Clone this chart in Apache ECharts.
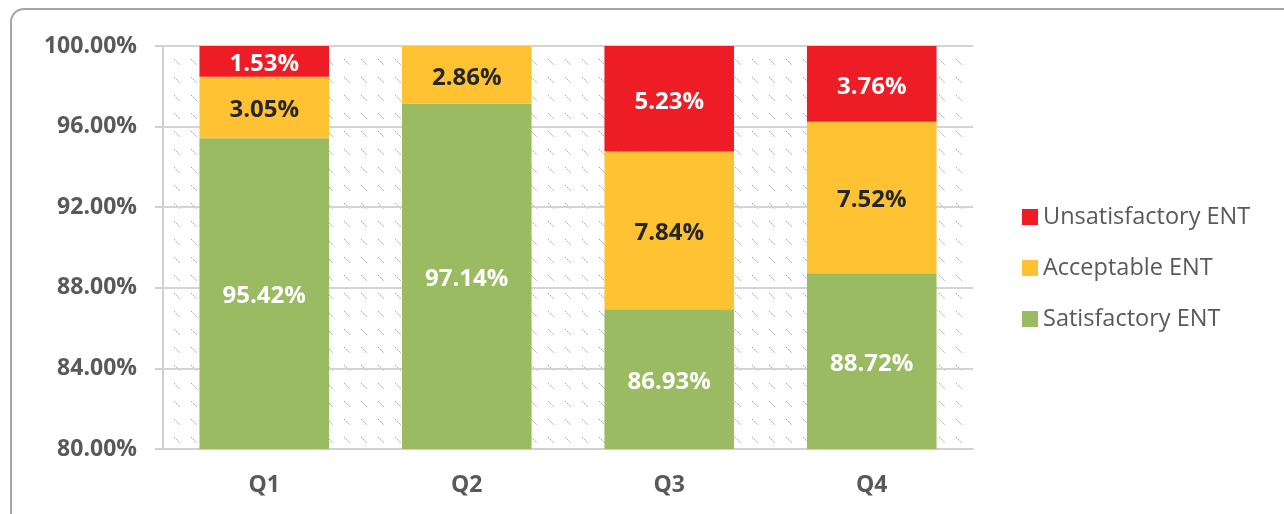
<!DOCTYPE html>
<html>
<head>
<meta charset="utf-8">
<script src="https://cdn.jsdelivr.net/npm/echarts@6/dist/echarts.min.js"></script>
<style>
  html, body { margin: 0; padding: 0; background: #fff; }
  #frame {
    position: absolute; left: 10px; top: 8px;
    width: 1320px; height: 560px;
    border: 2px solid #a6a6a6; border-radius: 14px;
  }
  #chart { position: absolute; left: 0; top: 0; width: 1284px; height: 514px; }
</style>
</head>
<body>
<div id="frame"></div>
<div id="chart"></div>
<script>
  // categories and series values (percent)
  var quarters = ['Q1', 'Q2', 'Q3', 'Q4'];
  var satisfactory = [95.42, 97.14, 86.93, 88.72];
  var acceptable = [3.05, 2.86, 7.84, 7.52];
  var unsatisfactory = [1.53, 0, 5.23, 3.76];

  // hatch pattern for the plot background
  var pat = document.createElement('canvas');
  pat.width = 17; pat.height = 18;
  var ctx = pat.getContext('2d');
  ctx.strokeStyle = '#a4a4a4';
  ctx.lineWidth = 1;
  ctx.setLineDash([2, 1]);
  ctx.beginPath();
  ctx.moveTo(4, 5);
  ctx.lineTo(10, 11);
  ctx.stroke();

  var fontFam = '"Open Sans", sans-serif';

  function lbl(color) {
    return {
      show: true,
      position: 'inside',
      offset: [0, 3],
      color: color,
      fontFamily: fontFam,
      fontWeight: 'bold',
      fontSize: 24,
      formatter: function (p) {
        return p.value ? p.value.toFixed(2) + '%' : '';
      }
    };
  }

  var chart = echarts.init(document.getElementById('chart'));
  chart.setOption({
    animation: false,
    grid: {
      left: 163, right: 311, top: 46, bottom: 65,
      show: true,
      borderWidth: 0,
      backgroundColor: { image: pat, repeat: 'repeat' }
    },
    legend: {
      orient: 'vertical',
      left: 1022,
      top: 205,
      icon: 'rect',
      itemWidth: 16,
      itemHeight: 16,
      itemGap: 27,
      itemTextGap: 5,
      padding: 0,
      data: ['Unsatisfactory ENT', 'Acceptable ENT', 'Satisfactory ENT'],
      textStyle: { color: '#595959', fontFamily: fontFam, fontSize: 23.5, lineHeight: 20 }
    },
    xAxis: [{
      type: 'category',
      data: quarters,
      axisLine: { lineStyle: { color: '#d0d0d0', width: 2 } },
      axisTick: { length: 8, lineStyle: { color: '#d0d0d0', width: 2 } },
      axisLabel: { margin: 25, color: '#595959', fontFamily: fontFam, fontWeight: 'bold', fontSize: 23 }
    }, {
      type: 'category',
      data: quarters,
      position: 'bottom',
      axisLine: { show: false },
      axisTick: { alignWithLabel: true, length: 7, lineStyle: { color: '#d0d0d0', width: 2 } },
      axisLabel: { show: false }
    }],
    yAxis: {
      type: 'value',
      min: 80,
      max: 100,
      interval: 4,
      axisLine: { show: true, lineStyle: { color: '#d0d0d0', width: 2 } },
      axisTick: { show: true, length: 8, lineStyle: { color: '#d0d0d0', width: 2 } },
      splitLine: { lineStyle: { color: '#d4d4d4', width: 2 } },
      axisLabel: {
        margin: 26,
        color: '#595959',
        fontFamily: fontFam,
        fontWeight: 'bold',
        fontSize: 23,
        formatter: function (v) { return v.toFixed(2) + '%'; }
      }
    },
    series: [{
      name: 'Satisfactory ENT',
      type: 'bar',
      stack: 'all',
      barWidth: '64%',
      itemStyle: { color: '#9bbb62' },
      label: lbl('#ffffff'),
      data: satisfactory
    }, {
      name: 'Acceptable ENT',
      type: 'bar',
      stack: 'all',
      itemStyle: { color: '#fec232' },
      label: lbl('#262626'),
      data: acceptable
    }, {
      name: 'Unsatisfactory ENT',
      type: 'bar',
      stack: 'all',
      itemStyle: { color: '#ee1c25' },
      label: lbl('#ffffff'),
      data: unsatisfactory
    }]
  });
</script>
</body>
</html>
